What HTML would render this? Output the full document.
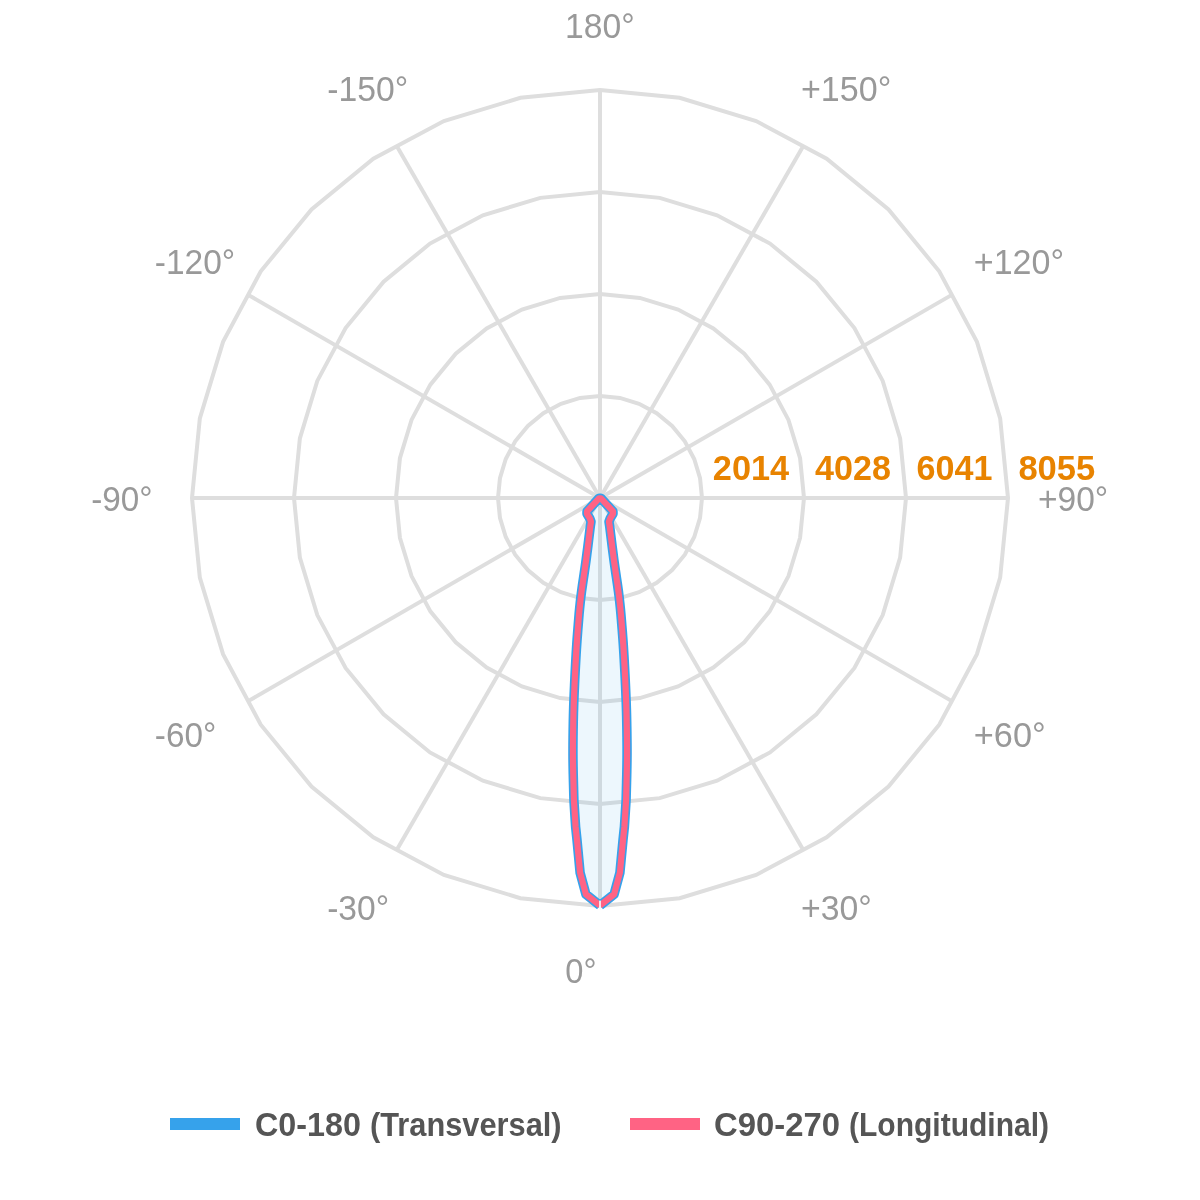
<!DOCTYPE html>
<html><head><meta charset="utf-8"><title>Polar chart</title>
<style>
html,body{margin:0;padding:0;background:#fff;}
body{width:1200px;height:1200px;overflow:hidden;font-family:"Liberation Sans",sans-serif;}
svg{display:block;will-change:transform;}
text{font-family:"Liberation Sans",sans-serif;}
.al{font-size:35px;fill:#999999;}
.tk{font-size:35px;font-weight:bold;fill:#e88300;}
.lg{font-size:34px;font-weight:bold;fill:#555555;}
</style></head><body>
<svg width="1200" height="1200" viewBox="0 0 1200 1200">
<rect width="1200" height="1200" fill="#ffffff"/>

<g fill="none" stroke="#dedede" stroke-width="4" stroke-linejoin="miter">
<polygon points="600.00,396.00 619.90,397.96 639.03,403.76 656.67,413.19 672.12,425.88 684.81,441.33 694.24,458.97 700.04,478.10 702.00,498.00 700.04,517.90 694.24,537.03 684.81,554.67 672.12,570.12 656.67,582.81 639.03,592.24 619.90,598.04 600.00,600.00 580.10,598.04 560.97,592.24 543.33,582.81 527.88,570.12 515.19,554.67 505.76,537.03 499.96,517.90 498.00,498.00 499.96,478.10 505.76,458.97 515.19,441.33 527.88,425.88 543.33,413.19 560.97,403.76 580.10,397.96"/>
<polygon points="600.00,294.00 639.80,297.92 678.07,309.53 713.34,328.38 744.25,353.75 769.62,384.66 788.47,419.93 800.08,458.20 804.00,498.00 800.08,537.80 788.47,576.07 769.62,611.34 744.25,642.25 713.34,667.62 678.07,686.47 639.80,698.08 600.00,702.00 560.20,698.08 521.93,686.47 486.66,667.62 455.75,642.25 430.38,611.34 411.53,576.07 399.92,537.80 396.00,498.00 399.92,458.20 411.53,419.93 430.38,384.66 455.75,353.75 486.66,328.38 521.93,309.53 560.20,297.92"/>
<polygon points="600.00,192.00 659.70,197.88 717.10,215.29 770.00,243.57 816.37,281.63 854.43,328.00 882.71,380.90 900.12,438.30 906.00,498.00 900.12,557.70 882.71,615.10 854.43,668.00 816.37,714.37 770.00,752.43 717.10,780.71 659.70,798.12 600.00,804.00 540.30,798.12 482.90,780.71 430.00,752.43 383.63,714.37 345.57,668.00 317.29,615.10 299.88,557.70 294.00,498.00 299.88,438.30 317.29,380.90 345.57,328.00 383.63,281.63 430.00,243.57 482.90,215.29 540.30,197.88"/>
<polygon points="600.00,90.00 679.60,97.84 756.13,121.06 826.67,158.76 888.50,209.50 939.24,271.33 976.94,341.87 1000.16,418.40 1008.00,498.00 1000.16,577.60 976.94,654.13 939.24,724.67 888.50,786.50 826.67,837.24 756.13,874.94 679.60,898.16 600.00,906.00 520.40,898.16 443.87,874.94 373.33,837.24 311.50,786.50 260.76,724.67 223.06,654.13 199.84,577.60 192.00,498.00 199.84,418.40 223.06,341.87 260.76,271.33 311.50,209.50 373.33,158.76 443.87,121.06 520.40,97.84"/>
<line x1="600.00" y1="498.00" x2="600.00" y2="90.00"/>
<line x1="600.00" y1="498.00" x2="803.13" y2="146.17"/>
<line x1="600.00" y1="498.00" x2="951.83" y2="294.87"/>
<line x1="600.00" y1="498.00" x2="1008.00" y2="498.00"/>
<line x1="600.00" y1="498.00" x2="951.83" y2="701.13"/>
<line x1="600.00" y1="498.00" x2="803.13" y2="849.83"/>
<line x1="600.00" y1="498.00" x2="600.00" y2="906.00"/>
<line x1="600.00" y1="498.00" x2="396.87" y2="849.83"/>
<line x1="600.00" y1="498.00" x2="248.17" y2="701.13"/>
<line x1="600.00" y1="498.00" x2="192.00" y2="498.00"/>
<line x1="600.00" y1="498.00" x2="248.17" y2="294.87"/>
<line x1="600.00" y1="498.00" x2="396.87" y2="146.17"/>
</g>
<path d="M600.00,905.50 L585.90,894.30 L580.10,872.70 L578.90,860.00 L577.00,840.00 L575.60,826.70 L573.90,800.00 L573.79,795.57 L573.63,789.38 L573.44,782.08 L573.25,774.32 L573.10,766.74 L573.00,760.00 L572.96,754.01 L572.96,748.25 L572.99,742.68 L573.05,737.25 L573.12,731.94 L573.20,726.70 L573.29,721.69 L573.39,716.97 L573.50,712.36 L573.64,707.70 L573.80,702.80 L574.00,697.50 L574.24,691.64 L574.52,685.34 L574.82,678.80 L575.15,672.25 L575.48,665.91 L575.80,660.00 L576.11,654.59 L576.41,649.54 L576.72,644.69 L577.05,639.91 L577.41,635.06 L577.80,630.00 L578.22,624.79 L578.64,619.54 L579.09,614.22 L579.59,608.80 L580.16,603.23 L580.80,597.50 L581.56,591.50 L582.43,585.25 L583.37,578.86 L584.32,572.45 L585.25,566.12 L586.10,560.00 L586.92,553.70 L587.77,547.06 L588.58,540.51 L589.32,534.47 L589.94,529.39 L590.40,525.70 L591.00,521.70 L589.70,518.20 L587.00,513.80 L587.00,511.40 L599.00,498.30 L601.00,498.30 L613.00,511.40 L613.00,513.80 L610.30,518.20 L609.00,521.70 L609.60,525.70 L610.06,529.39 L610.68,534.47 L611.42,540.51 L612.23,547.06 L613.08,553.70 L613.90,560.00 L614.75,566.12 L615.68,572.45 L616.63,578.86 L617.57,585.25 L618.44,591.50 L619.20,597.50 L619.84,603.23 L620.41,608.80 L620.91,614.22 L621.36,619.54 L621.78,624.79 L622.20,630.00 L622.59,635.06 L622.95,639.91 L623.28,644.69 L623.59,649.54 L623.89,654.59 L624.20,660.00 L624.52,665.91 L624.85,672.25 L625.18,678.80 L625.48,685.34 L625.76,691.64 L626.00,697.50 L626.20,702.80 L626.36,707.70 L626.50,712.36 L626.61,716.97 L626.71,721.69 L626.80,726.70 L626.88,731.94 L626.95,737.25 L627.01,742.68 L627.04,748.25 L627.04,754.01 L627.00,760.00 L626.90,766.74 L626.75,774.32 L626.56,782.08 L626.37,789.38 L626.21,795.57 L626.10,800.00 L624.40,826.70 L623.00,840.00 L621.10,860.00 L619.90,872.70 L614.10,894.30 L600.00,905.50 Z" fill="rgba(54,162,235,0.09)" stroke="none"/>
<path d="M600.00,905.50 L585.90,894.30 L580.10,872.70 L578.90,860.00 L577.00,840.00 L575.60,826.70 L573.90,800.00 L573.79,795.57 L573.63,789.38 L573.44,782.08 L573.25,774.32 L573.10,766.74 L573.00,760.00 L572.96,754.01 L572.96,748.25 L572.99,742.68 L573.05,737.25 L573.12,731.94 L573.20,726.70 L573.29,721.69 L573.39,716.97 L573.50,712.36 L573.64,707.70 L573.80,702.80 L574.00,697.50 L574.24,691.64 L574.52,685.34 L574.82,678.80 L575.15,672.25 L575.48,665.91 L575.80,660.00 L576.11,654.59 L576.41,649.54 L576.72,644.69 L577.05,639.91 L577.41,635.06 L577.80,630.00 L578.22,624.79 L578.64,619.54 L579.09,614.22 L579.59,608.80 L580.16,603.23 L580.80,597.50 L581.56,591.50 L582.43,585.25 L583.37,578.86 L584.32,572.45 L585.25,566.12 L586.10,560.00 L586.92,553.70 L587.77,547.06 L588.58,540.51 L589.32,534.47 L589.94,529.39 L590.40,525.70 L591.00,521.70 L589.70,518.20 L587.00,513.80 L587.00,511.40 L599.00,498.30 L601.00,498.30 L613.00,511.40 L613.00,513.80 L610.30,518.20 L609.00,521.70 L609.60,525.70 L610.06,529.39 L610.68,534.47 L611.42,540.51 L612.23,547.06 L613.08,553.70 L613.90,560.00 L614.75,566.12 L615.68,572.45 L616.63,578.86 L617.57,585.25 L618.44,591.50 L619.20,597.50 L619.84,603.23 L620.41,608.80 L620.91,614.22 L621.36,619.54 L621.78,624.79 L622.20,630.00 L622.59,635.06 L622.95,639.91 L623.28,644.69 L623.59,649.54 L623.89,654.59 L624.20,660.00 L624.52,665.91 L624.85,672.25 L625.18,678.80 L625.48,685.34 L625.76,691.64 L626.00,697.50 L626.20,702.80 L626.36,707.70 L626.50,712.36 L626.61,716.97 L626.71,721.69 L626.80,726.70 L626.88,731.94 L626.95,737.25 L627.01,742.68 L627.04,748.25 L627.04,754.01 L627.00,760.00 L626.90,766.74 L626.75,774.32 L626.56,782.08 L626.37,789.38 L626.21,795.57 L626.10,800.00 L624.40,826.70 L623.00,840.00 L621.10,860.00 L619.90,872.70 L614.10,894.30 L600.00,905.50" fill="none" stroke="#36a2eb" stroke-width="9.5" stroke-linejoin="round" stroke-linecap="butt"/>
<path d="M600.00,905.50 L585.90,894.30 L580.10,872.70 L578.90,860.00 L577.00,840.00 L575.60,826.70 L573.90,800.00 L573.79,795.57 L573.63,789.38 L573.44,782.08 L573.25,774.32 L573.10,766.74 L573.00,760.00 L572.96,754.01 L572.96,748.25 L572.99,742.68 L573.05,737.25 L573.12,731.94 L573.20,726.70 L573.29,721.69 L573.39,716.97 L573.50,712.36 L573.64,707.70 L573.80,702.80 L574.00,697.50 L574.24,691.64 L574.52,685.34 L574.82,678.80 L575.15,672.25 L575.48,665.91 L575.80,660.00 L576.11,654.59 L576.41,649.54 L576.72,644.69 L577.05,639.91 L577.41,635.06 L577.80,630.00 L578.22,624.79 L578.64,619.54 L579.09,614.22 L579.59,608.80 L580.16,603.23 L580.80,597.50 L581.56,591.50 L582.43,585.25 L583.37,578.86 L584.32,572.45 L585.25,566.12 L586.10,560.00 L586.92,553.70 L587.77,547.06 L588.58,540.51 L589.32,534.47 L589.94,529.39 L590.40,525.70 L591.00,521.70 L589.70,518.20 L587.00,513.80 L587.00,511.40 L599.00,498.30 L601.00,498.30 L613.00,511.40 L613.00,513.80 L610.30,518.20 L609.00,521.70 L609.60,525.70 L610.06,529.39 L610.68,534.47 L611.42,540.51 L612.23,547.06 L613.08,553.70 L613.90,560.00 L614.75,566.12 L615.68,572.45 L616.63,578.86 L617.57,585.25 L618.44,591.50 L619.20,597.50 L619.84,603.23 L620.41,608.80 L620.91,614.22 L621.36,619.54 L621.78,624.79 L622.20,630.00 L622.59,635.06 L622.95,639.91 L623.28,644.69 L623.59,649.54 L623.89,654.59 L624.20,660.00 L624.52,665.91 L624.85,672.25 L625.18,678.80 L625.48,685.34 L625.76,691.64 L626.00,697.50 L626.20,702.80 L626.36,707.70 L626.50,712.36 L626.61,716.97 L626.71,721.69 L626.80,726.70 L626.88,731.94 L626.95,737.25 L627.01,742.68 L627.04,748.25 L627.04,754.01 L627.00,760.00 L626.90,766.74 L626.75,774.32 L626.56,782.08 L626.37,789.38 L626.21,795.57 L626.10,800.00 L624.40,826.70 L623.00,840.00 L621.10,860.00 L619.90,872.70 L614.10,894.30 L600.00,905.50" fill="none" stroke="#ff6384" stroke-width="6.2" stroke-linejoin="round" stroke-linecap="butt"/>
<rect x="599.15" y="900.6" width="1.7" height="9" fill="#f6fbfd"/>
<text class="al" x="565.00" y="38.0" textLength="69.74" lengthAdjust="spacingAndGlyphs">180°</text>
<text class="al" x="327.20" y="100.5" textLength="80.97" lengthAdjust="spacingAndGlyphs">-150°</text>
<text class="al" x="801.00" y="100.5" textLength="90.27" lengthAdjust="spacingAndGlyphs">+150°</text>
<text class="al" x="154.80" y="274.2" textLength="80.47" lengthAdjust="spacingAndGlyphs">-120°</text>
<text class="al" x="973.80" y="274.2" textLength="90.32" lengthAdjust="spacingAndGlyphs">+120°</text>
<text class="al" x="91.20" y="510.5" textLength="61.45" lengthAdjust="spacingAndGlyphs">-90°</text>
<text class="al" x="1038.00" y="510.5" textLength="70.20" lengthAdjust="spacingAndGlyphs">+90°</text>
<text class="al" x="154.80" y="746.7" textLength="61.52" lengthAdjust="spacingAndGlyphs">-60°</text>
<text class="al" x="973.80" y="746.7" textLength="71.86" lengthAdjust="spacingAndGlyphs">+60°</text>
<text class="al" x="327.20" y="919.5" textLength="61.98" lengthAdjust="spacingAndGlyphs">-30°</text>
<text class="al" x="801.00" y="919.5" textLength="70.80" lengthAdjust="spacingAndGlyphs">+30°</text>
<text class="al" x="565.20" y="983.3" textLength="31.28" lengthAdjust="spacingAndGlyphs">0°</text>
<text class="tk" x="712.80" y="479.6" textLength="76.39" lengthAdjust="spacingAndGlyphs">2014</text>
<text class="tk" x="815.00" y="479.6" textLength="75.85" lengthAdjust="spacingAndGlyphs">4028</text>
<text class="tk" x="916.50" y="479.6" textLength="75.90" lengthAdjust="spacingAndGlyphs">6041</text>
<text class="tk" x="1018.40" y="479.6" textLength="76.92" lengthAdjust="spacingAndGlyphs">8055</text>
<rect x="170" y="1118" width="70" height="12" fill="#36a2eb"/>
<text class="lg" x="255.00" y="1135.6" textLength="106.00" lengthAdjust="spacingAndGlyphs">C0-180</text>
<text class="lg" x="370.00" y="1135.6" textLength="191.53" lengthAdjust="spacingAndGlyphs">(Transversal)</text>
<rect x="630" y="1118" width="70" height="12" fill="#ff6384"/>
<text class="lg" x="714.00" y="1135.6" textLength="126.02" lengthAdjust="spacingAndGlyphs">C90-270</text>
<text class="lg" x="849.00" y="1135.6" textLength="200.00" lengthAdjust="spacingAndGlyphs">(Longitudinal)</text>
</svg></body></html>
